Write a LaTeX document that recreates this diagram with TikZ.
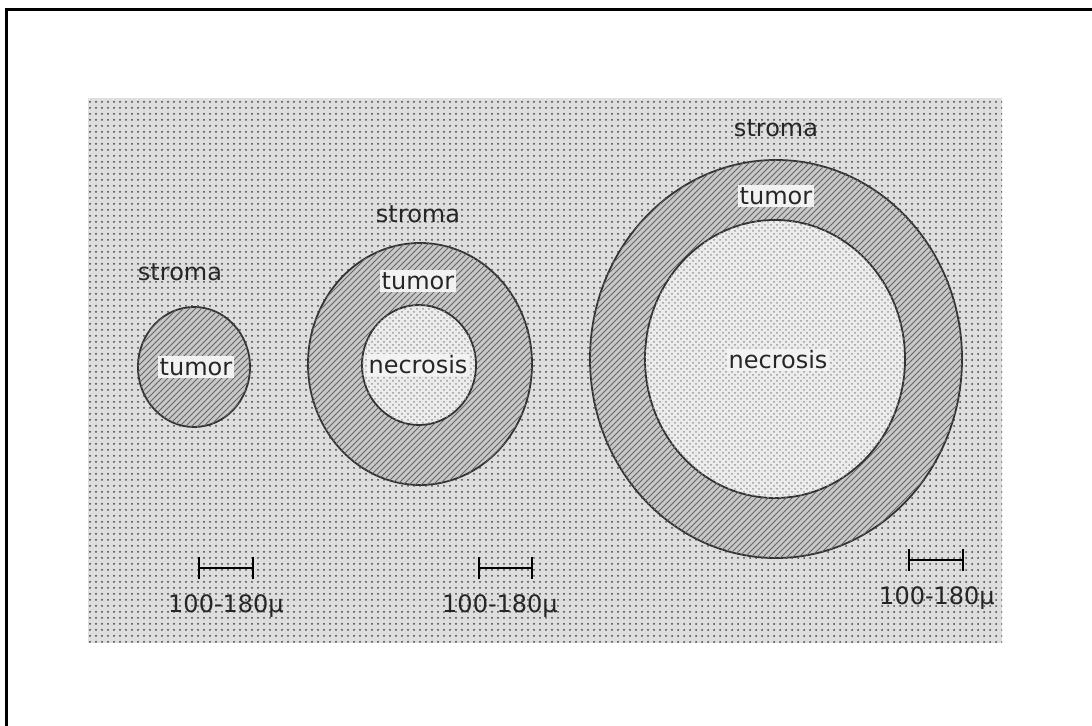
\documentclass[tikz,border=0pt]{standalone}
\usepackage{fontspec}
\setmainfont{DejaVu Sans}
\usetikzlibrary{arrows.meta, patterns, positioning}
\definecolor{stromagray}{RGB}{222,222,222}
\definecolor{tumorgray}{RGB}{200,200,200}
\definecolor{necrogray}{RGB}{236,236,236}

\begin{document}
\begin{tikzpicture}[
  x=0.5pt, y=-0.5pt,
  lbl/.style={font=\fontsize{12}{14}\selectfont, text=black!85, inner sep=1pt},
  stromalbl/.style={lbl},
  tumorlbl/.style={lbl, fill=white!90!gray},
  necrolbl/.style={lbl, fill=white!90!gray},
  tumor/.style={draw=black!80, line width=0.9pt, fill=tumorgray,
    postaction={pattern=north east lines, pattern color=black!60}},
  necrosis/.style={draw=black!80, line width=0.9pt, fill=necrogray,
    postaction={pattern=crosshatch dots, pattern color=black!40}},
  scalebar/.style={line width=1.2pt, {Bar[width=11pt]}-{Bar[width=11pt]}},
  scalelbl/.style={lbl},
]
\useasboundingbox (0,0) rectangle (1092,726);

% Frame
\draw[line width=1.5pt] (6,726) -- (6,10) -- (1092,10);

% Stroma
\fill[stromagray] (88,98) rectangle (1002,643);
\fill[pattern=dots, pattern color=black!75] (88,98) rectangle (1002,643);

% Small tumour
\draw[tumor] (194,367) ellipse [x radius=56, y radius=60];

% Middle tumour
\draw[tumor] (420,364) ellipse [x radius=112, y radius=121];
\draw[necrosis] (419,365) ellipse [x radius=57, y radius=60];

% Large tumour
\draw[tumor] (776,359) ellipse [x radius=186, y radius=199];
\draw[necrosis] (775,359) ellipse [x radius=130, y radius=139];

% Labels
\node[stromalbl] (s1) at (180,272) {stroma};
\node[tumorlbl] (t1) at (196,367) {tumor};

\node[stromalbl] (s2) at (418,214) {stroma};
\node[tumorlbl] (t2) at (418,281) {tumor};
\node[necrolbl] (n2) at (418,365) {necrosis};

\node[stromalbl] (s3) at (776,128) {stroma};
\node[tumorlbl] (t3) at (776,196) {tumor};
\node[necrolbl] (n3) at (778,360) {necrosis};

% Scale bars
\coordinate (b1l) at (198,568);
\coordinate (b1r) at (254,568);
\coordinate (b2l) at (478,568);
\coordinate (b2r) at (533,568);
\coordinate (b3l) at (908,560);
\coordinate (b3r) at (964,560);
\draw[scalebar] (b1l) -- (b1r);
\draw[scalebar] (b2l) -- (b2r);
\draw[scalebar] (b3l) -- (b3r);
\node[scalelbl] (m1) at (226,606) {100-180μ};
\node[scalelbl] (m2) at (500,606) {100-180μ};
\node[scalelbl] (m3) at (937,598) {100-180μ};
\end{tikzpicture}
\end{document}
